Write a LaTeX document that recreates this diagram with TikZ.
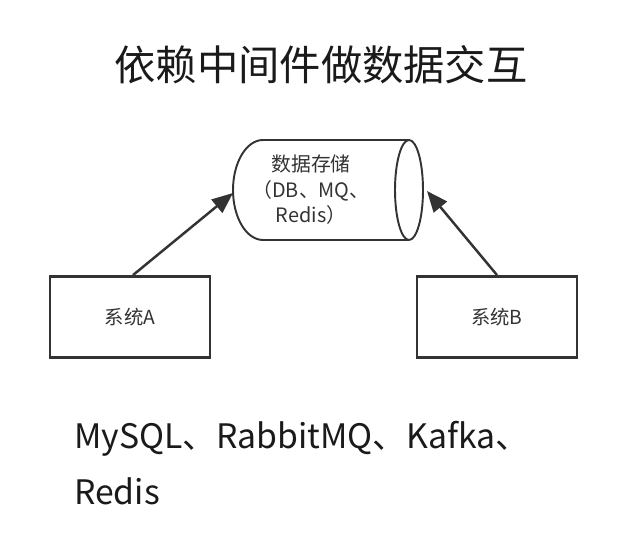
\documentclass[tikz,border=0pt]{standalone}
\usepackage{fontspec}
\setmainfont{Noto Sans CJK SC}
\usetikzlibrary{arrows.meta}
\definecolor{lnDark}{HTML}{333333}
\definecolor{txDark}{HTML}{1A1A1A}

\begin{document}
\begin{tikzpicture}[x=0.02cm,y=-0.02cm,>={Triangle[length=4.2mm,width=3.4mm]},
      sys/.style={draw=lnDark,line width=1.6pt,minimum width=160*0.02cm,
                  minimum height=81*0.02cm,inner sep=0pt,font=\fontsize{11}{13}\selectfont,text=lnDark},
      link/.style={->,draw=lnDark,line width=1.4pt}]
    \useasboundingbox (0,0) rectangle (635,546);
    \node[font=\fontsize{23.5}{28}\selectfont,text=txDark] (title) at (321,65) {依赖中间件做数据交互};
    % storage cylinder
    \draw[lnDark,line width=1.1pt] (409,140) -- (263,140)
       arc[start angle=90,end angle=270,x radius=0.6cm,y radius=1cm] -- (409,240);
    \draw[lnDark,line width=1.1pt] (409,190) ellipse[x radius=0.28cm,y radius=1cm];
    \coordinate (dbw) at (233,193);
    \coordinate (dbe) at (427,191);
    \node[align=center,font=\fontsize{11.3}{14.5}\selectfont,text=lnDark] (db) at (311,190)
       {数据存储\\（DB、MQ、\\Redis）};
    \node[sys] (a) at (130,317) {系统A};
    \node[sys] (b) at (497,317) {系统B};
    \draw[link] (a.north) ++(3,0) -- (dbw);
    \draw[link] (b.north) -- (dbe);
    \node[anchor=north west,align=left,font=\fontsize{19.2}{32}\selectfont,text=txDark] (mw) at (68,415)
       {MySQL、RabbitMQ、Kafka、\\Redis};
  \end{tikzpicture}
\end{document}
